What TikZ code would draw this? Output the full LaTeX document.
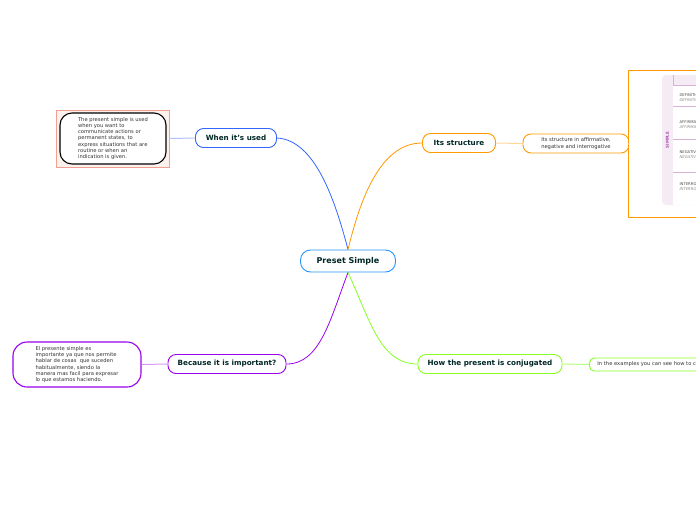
\documentclass[tikz,border=0pt]{standalone}
\usepackage{fontspec}
\setmainfont{DejaVu Sans}
\begin{document}
\begin{tikzpicture}[x=1pt,y=-1pt,
 topic/.style={draw,line width=0.9pt,rounded corners=8pt,fill=white,font=\bfseries\fontsize{7.2}{8}\selectfont,text=black!70!teal,inner sep=0pt},
 sub/.style={draw,line width=0.9pt,rounded corners=8pt,fill=white,font=\fontsize{5.2}{6.2}\selectfont,text=black!80,align=left,inner sep=0pt},
 conn/.style={line width=0.8pt}]
\useasboundingbox (0,0) rectangle (696,520);
\clip (0,0) rectangle (696,520);
\definecolor{cblue}{HTML}{3366FF}
\definecolor{corange}{HTML}{FF9900}
\definecolor{cpurple}{HTML}{9900EE}
\definecolor{cgreen}{HTML}{88FF22}
\definecolor{csalmon}{HTML}{F0A090}
% central
\node[topic,draw=cblue!70!cyan,minimum width=95pt,minimum height=22pt,rounded corners=10pt,font=\bfseries\fontsize{8}{9}\selectfont] (c) at (348,261) {Preset Simple};
% topics
\node[topic,draw=cblue,minimum width=81pt,minimum height=19pt] (w) at (236,138) {When it's used};
\node[topic,draw=corange,minimum width=73pt,minimum height=19pt] (s) at (459,143) {Its structure};
\node[topic,draw=cpurple,minimum width=118pt,minimum height=19pt] (b) at (227,364) {Because it is important?};
\node[topic,draw=cgreen,minimum width=144pt,minimum height=19pt] (h) at (490,364) {How the present is conjugated};
% connectors
\draw[conn,cblue] (c.north) .. controls (335,200) and (315,140) .. (w.east);
\draw[conn,corange] (c.north) .. controls (360,200) and (380,143) .. (s.west);
\draw[conn,cpurple] (c.south) .. controls (330,320) and (320,364) .. (b.east);
\draw[conn,cgreen] (c.south) .. controls (370,320) and (380,364) .. (h.west);
% when subnode
\node[draw=csalmon,fill=csalmon!15,minimum width=113pt,minimum height=57pt,inner sep=0pt] (wbox) at (112.5,138.5) {};
\node[sub,draw=black,line width=1.1pt,rounded corners=12pt,minimum width=106pt,minimum height=51pt] (wn) at (113,138.5) {The present simple is used\\when you want to\\communicate actions or\\permanent states, to\\express situations that are\\routine or when an\\indication is given.};
\draw[conn,cblue!40,line width=1pt] (wbox.east) -- (w.west);
% structure subnode
\node[sub,draw=corange,minimum width=106pt,minimum height=19pt] (sn) at (576,143.5) {Its structure in affirmative,\\negative and interrogative};
\draw[conn,corange!40,line width=1pt] (s.east) -- (sn.west);
% table
\node[draw=corange,line width=1.2pt,fill=white,minimum width=80pt,minimum height=147pt,inner sep=0pt,anchor=north west] (tab) at (628,70) {};
\draw[conn,corange!40,line width=1pt] (sn.east) -- (tab.west);
\fill[violet!8,rounded corners=4pt] (662,75) rectangle (720,205);
\draw[violet!30] (673,75) -- (673,205);
\node[rotate=90,font=\bfseries\fontsize{4}{4}\selectfont,text=violet!70] (simple) at (667.5,140) {SIMPLE};
\fill[white] (673,85) rectangle (720,205);
\foreach \y in {85,106,139,172} \draw[violet!30] (673,\y) -- (720,\y);
\foreach \y/\a in {98/DEFINITION,125/AFFIRMATIVE,155/NEGATIVE,187/INTERROGATIVE}{
 \node[anchor=west,font=\fontsize{3.8}{4}\selectfont,text=black!70] at (676,\y-2.5) {\a};
 \node[anchor=west,font=\itshape\fontsize{3.8}{4}\selectfont,text=black!45] at (676,\y+2.5) {\a};}
% because subnode
\node[sub,draw=cpurple,line width=1.1pt,rounded corners=14pt,minimum width=128pt,minimum height=45pt] (bn) at (77,364.5) {El presente simple es\\importante ya que nos permite\\hablar de cosas \ que suceden\\habitualmente, siendo la\\manera mas facil para expresar\\lo que estamos haciendo.};
\draw[conn,cpurple!40,line width=1pt] (bn.east) -- (b.west);
% how subnode
\node[sub,draw=cgreen,rounded corners=5pt,minimum height=13pt,anchor=west,inner xsep=8pt] (hn) at (589,364.5) {In the examples you can see how to conjugate};
\draw[conn,cgreen!60,line width=1pt] (h.east) -- (hn.west);
\end{tikzpicture}
\end{document}
